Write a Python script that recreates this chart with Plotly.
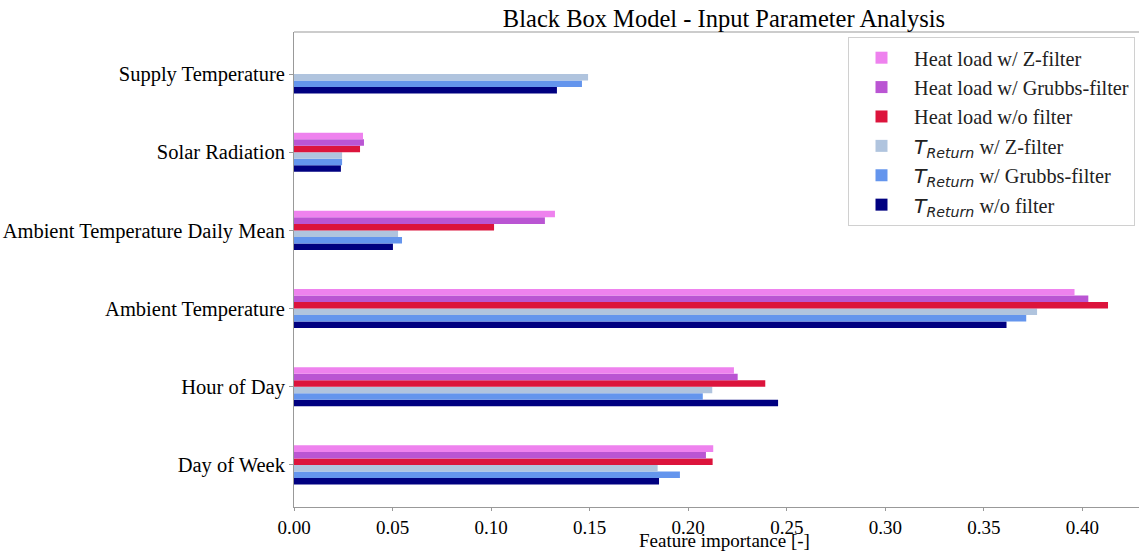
import plotly.graph_objects as go

categories = ["Day of Week", "Hour of Day", "Ambient Temperature",
              "Ambient Temperature Daily Mean", "Solar Radiation", "Supply Temperature"]

# values per category (same order as categories)
heat_z      = [0.2127, 0.2232, 0.3960, 0.1324, 0.0350, None]
heat_grubbs = [0.2090, 0.2251, 0.4030, 0.1273, 0.0355, None]
heat_wo     = [0.2124, 0.2391, 0.4130, 0.1015, 0.0335, None]
tret_z      = [0.1845, 0.2122, 0.3770, 0.0528, 0.0244, 0.1492]
tret_grubbs = [0.1958, 0.2074, 0.3715, 0.0548, 0.0244, 0.1461]
tret_wo     = [0.1852, 0.2456, 0.3615, 0.0502, 0.0238, 0.1334]

T_RET = '<span style="font-family:DejaVu Sans"><i>T</i><sub><i>Return</i></sub></span>'
series = [
    (tret_wo,     T_RET + " w/o filter",          "#000080", 6),
    (tret_grubbs, T_RET + " w/ Grubbs-filter",    "#6495ED", 5),
    (tret_z,      T_RET + " w/ Z-filter",         "#B0C4DE", 4),
    (heat_wo,     "Heat load w/o filter",         "#DC143C", 3),
    (heat_grubbs, "Heat load w/ Grubbs-filter",   "#BA55D3", 2),
    (heat_z,      "Heat load w/ Z-filter",        "#EE82EE", 1),
]

FONT = "Liberation Serif"
fig = go.Figure()
for i, (vals, name, color, rank) in enumerate(series):
    fig.add_trace(go.Bar(
        x=vals, y=categories, orientation="h", name=name,
        marker=dict(color=color, line=dict(width=0)),
        legendrank=rank, legendgroup=f"g{i}",
    ))

W, H = 1139, 551
L, R, T, B = 294, 0, 32, 44
PH = H - T - B
fig.update_layout(
    width=W, height=H,
    margin=dict(l=L, r=R, t=T, b=B),
    barmode="group", bargap=0.5, bargroupgap=0,
    plot_bgcolor="white", paper_bgcolor="white",
    font=dict(family=FONT, size=20, color="black"),
    title=dict(text="Black Box Model - Input Parameter Analysis",
               x=724 / W, xanchor="center", xref="container",
               y=1 - 18 / H, yanchor="middle", yref="container",
               font=dict(family=FONT, size=24.5, color="black")),
    xaxis=dict(range=[0, 845 / 1971], tickmode="array",
               tickvals=[0, 0.05, 0.1, 0.15, 0.2, 0.25, 0.3, 0.35, 0.4],
               ticktext=["0.00", "0.05", "0.10", "0.15", "0.20", "0.25", "0.30", "0.35", "0.40"],
               showgrid=False, zeroline=False, showline=True, linecolor="#999999", linewidth=1,
               ticks="outside", ticklen=3, tickcolor="#999999",
               tickfont=dict(family=FONT, size=19, color="black")),
    yaxis=dict(type="category", categoryorder="array", categoryarray=categories,
               range=[-(H - B - 465) / 78, 5.538], showgrid=False, zeroline=False,
               showline=True, linecolor="#999999", linewidth=1,
               ticks="outside", ticklen=4, tickcolor="#999999",
               tickfont=dict(family=FONT, size=20.5, color="black")),
    legend=dict(x=(848 - L) / (W - L), y=(PH - 5) / PH,
                xanchor="left", yanchor="top",
                bgcolor="white", bordercolor="#d0d0d0", borderwidth=1,
                font=dict(family=FONT, size=20.3, color="#222222"),
                tracegroupgap=0, itemwidth=55),
    showlegend=True,
)
# top spine
fig.add_shape(type="line", xref="paper", yref="paper", x0=0, x1=1, y0=1, y1=1,
              line=dict(color="#999999", width=1))
# x-axis title centered on the original (wider) plot area
fig.add_annotation(text="Feature importance [-]", xref="paper", yref="paper",
                   x=(724 - L) / (W - L), y=0, yshift=-(B + 1), xanchor="center", yanchor="bottom",
                   borderpad=0, showarrow=False, font=dict(family=FONT, size=19, color="black"))

fig.write_html("out.html", config={"displayModeBar": False},
               post_script="document.body.style.margin='0';document.body.style.overflow='hidden';")
